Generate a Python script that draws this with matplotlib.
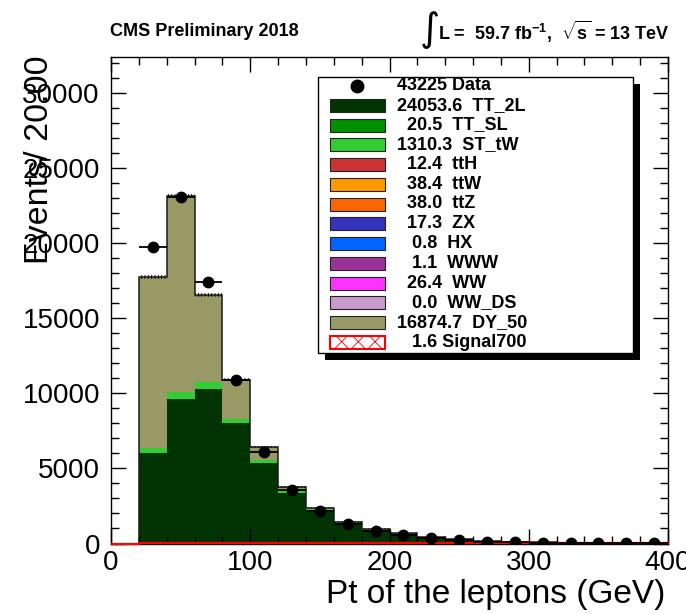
import matplotlib
matplotlib.use('Agg')
import matplotlib.pyplot as plt
import numpy as np
from matplotlib.patches import Rectangle
from matplotlib.ticker import MultipleLocator

plt.rcParams['font.family'] = ['Liberation Sans', 'DejaVu Sans']
plt.rcParams['mathtext.fontset'] = 'custom'
plt.rcParams['mathtext.rm'] = 'Liberation Sans'
plt.rcParams['mathtext.bf'] = 'Liberation Sans:bold'
plt.rcParams['hatch.linewidth'] = 0.6

# lepton pt binning, 20 GeV bins from 20 to 400
edges = np.arange(20, 401, 20)
centers = 0.5 * (edges[:-1] + edges[1:])

# stacked MC, events per bin
tt2l = [6000, 9650, 10300, 8020, 5390, 3390, 2210, 1340, 900, 640,
        400, 270, 165, 100, 65, 45, 30, 20, 15]
sttw = [350, 480, 490, 270, 170, 110, 70, 45, 30, 20,
        12, 8, 5, 3, 2, 1.5, 1, 0.8, 0.5]
dy50 = [11400, 13020, 5760, 2640, 870, 280, 110, 55, 50, 30,
        13, 10, 5, 5, 5, 3, 3, 2, 2]
mc_err = [120, 140, 115, 90, 70, 55, 45, 35, 30, 25,
          20, 16, 12, 10, 8, 7, 6, 5, 4]

data = [19750, 23100, 17460, 10920, 6120, 3540, 2140, 1280, 810, 560,
        335, 245, 105, 68, 45, 30, 22, 15, 10]

# signal is drawn over the full 0-400 range
sig_edges = np.arange(0, 401, 20)
signal700 = [0.0, 0.02, 0.04, 0.05, 0.06, 0.07, 0.08, 0.09, 0.09, 0.1,
             0.1, 0.1, 0.1, 0.1, 0.1, 0.1, 0.09, 0.09, 0.08, 0.09]

# legend content
data_yield = 43225
mc_names = ['TT_2L', 'TT_SL', 'ST_tW', 'ttH', 'ttW', 'ttZ', 'ZX', 'HX',
            'WWW', 'WW', 'WW_DS', 'DY_50']
mc_yields = [24053.6, 20.5, 1310.3, 12.4, 38.4, 38.0, 17.3, 0.8,
             1.1, 26.4, 0.0, 16874.7]
mc_colors = ['#023302', '#009000', '#33cc33', '#cc3333', '#ff9900', '#ff6600',
             '#3333bb', '#0066ff', '#993399', '#ff33ff', '#cc99cc', '#999966']
sig_yield = 1.6

W, H = 686, 614
fig = plt.figure(figsize=(W / 100, H / 100), dpi=100)
ax = fig.add_axes([111 / W, 1 - 543.5 / H, (668 - 111) / W, (543.5 - 57) / H])

# stack: TT_2L, ST_tW, DY_50
bottom = np.zeros(len(centers))
for vals, col in ((tt2l, mc_colors[0]), (sttw, mc_colors[2]), (dy50, mc_colors[11])):
    vals = np.array(vals, dtype=float)
    ax.stairs(bottom + vals, edges, baseline=bottom, fill=True, color=col, lw=0)
    bottom = bottom + vals

total = bottom
ax.stairs(total, edges, baseline=0, color='#1a1a1a', lw=1.1)

# MC uncertainty band
err = np.array(mc_err, dtype=float)
ax.bar(centers, 2 * err, width=20, bottom=total - err, fill=False,
       hatch='|||||', edgecolor='black', lw=0)

ax.stairs(signal700, sig_edges, color='red', lw=1.6, zorder=4, clip_on=False)

ax.errorbar(centers, data, xerr=10, fmt='o', color='black', ms=7.5,
            elinewidth=1.3, capsize=0, zorder=5)

ax.set_xlim(0, 400)
ax.set_ylim(0, 32430)
ax.xaxis.set_major_locator(MultipleLocator(100))
ax.xaxis.set_minor_locator(MultipleLocator(20))
ax.yaxis.set_major_locator(MultipleLocator(5000))
ax.yaxis.set_minor_locator(MultipleLocator(1000))
ax.tick_params(which='both', direction='in', top=True, right=True, width=1)
ax.tick_params(which='major', length=11)
ax.tick_params(which='minor', length=5.5)
ax.tick_params(axis='y', labelsize=20, pad=8)
ax.tick_params(axis='x', labelsize=20, pad=5)
for s in ax.spines.values():
    s.set_linewidth(1)

fig.text(665 / W, 1 - 594 / H, 'Pt of the leptons (GeV)', ha='right',
         va='center', fontsize=24)
fig.text(40 / W, 1 - 55 / H, 'Events/ 20.00', rotation=90, ha='center',
         va='top', fontsize=24.5)

fig.text(110 / W, 1 - 32 / H, 'CMS Preliminary 2018', fontsize=13,
         fontweight='bold', va='center')
fig.text(430 / W, 1 - 30 / H, '\u222b', fontsize=28, family='DejaVu Sans',
         ha='center', va='center')
fig.text(438 / W, 1 - 32 / H,
         r'L =  59.7 fb$^{\mathbf{-1}}$,  $\sqrt{\mathbf{s}}$ = 13 TeV',
         fontsize=13, fontweight='bold', va='center')

# legend drawn in pixel coordinates on an overlay
lax = fig.add_axes([0, 0, 1, 1], zorder=10)
lax.set_xlim(0, W)
lax.set_ylim(H, 0)
lax.axis('off')
lax.patch.set_alpha(0)

lax.add_patch(Rectangle((325, 84), 315, 276, color='black', lw=0))
lax.add_patch(Rectangle((318, 77), 315, 276, facecolor='white',
                        edgecolor='black', lw=1))

row0, dy_row = 85.5, 19.75
labels = ['%d Data' % data_yield]
labels += ['%6.1f  %s' % (v, n) for v, n in zip(mc_yields, mc_names)]
labels += ['%6.1f Signal700' % sig_yield]

for i, lab in enumerate(labels):
    yc = row0 + i * dy_row
    if i == 0:
        lax.plot(357, yc, 'o', color='black', ms=9)
    elif i <= len(mc_names):
        lax.add_patch(Rectangle((330, yc - 6.5), 55, 13,
                                facecolor=mc_colors[i - 1], edgecolor='#222222', lw=0.8))
    else:
        lax.add_patch(Rectangle((330, yc - 6.5), 55, 13, facecolor='white',
                                edgecolor='red', hatch='xx', lw=1.5))
    lax.text(397, yc, lab, fontsize=13, fontweight='bold', va='center', ha='left')

fig.savefig('out.png', dpi=100)
